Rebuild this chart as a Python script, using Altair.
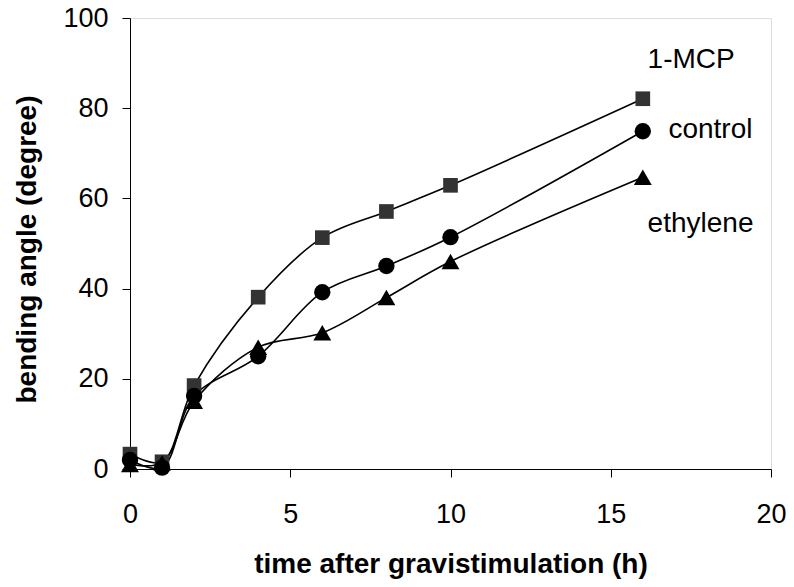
import altair as alt
import pandas as pd

hours = [0, 1, 2, 4, 6, 8, 10, 16]
mcp = [3.3, 1.6, 18.5, 38.1, 51.3, 57.1, 62.9, 82.1]
control = [2.0, 0.3, 16.2, 25.0, 39.2, 45.0, 51.4, 74.9]
ethylene = [1.0, 1.4, 15.0, 27.0, 30.2, 38.0, 46.0, 64.7]

series_names = ["1-MCP", "control", "ethylene"]
series_values = [mcp, control, ethylene]

label_text = ["1-MCP", "control", "ethylene"]
label_x = [16.15, 16.8, 16.15]
label_y = [88.9, 73.4, 52.6]

rows = []
for name, vals in zip(series_names, series_values):
    for h, v in zip(hours, vals):
        rows.append({"series": name, "hours": h, "angle": v})
df = pd.DataFrame(rows)
lab = pd.DataFrame({"text": label_text, "x": label_x, "y": label_y})

FONT = "Liberation Sans"

xs = alt.Scale(domain=[0, 20], nice=False, zero=False)
ys = alt.Scale(domain=[0, 100], nice=False)

xenc = alt.X("hours:Q", scale=xs, axis=alt.Axis(
    values=[0, 5, 10, 15, 20], title="time after gravistimulation (h)", grid=False,
    domainColor="black", domainWidth=1, tickColor="black", tickSize=8, tickWidth=1,
    labelFont=FONT, labelFontSize=27, labelColor="black", labelPadding=24,
    titleFont=FONT, titleFontSize=28, titleFontWeight="bold", titleColor="black",
    titleBaseline="alphabetic", titleY=103, labelFlush=False))
yenc = alt.Y("angle:Q", scale=ys, axis=alt.Axis(
    values=[0, 20, 40, 60, 80, 100], title="bending angle (degree)", grid=False,
    domainColor="black", domainWidth=1, tickColor="black", tickSize=8, tickWidth=1,
    labelFont=FONT, labelFontSize=27, labelColor="black", labelPadding=14,
    titleFont=FONT, titleFontSize=28, titleFontWeight="bold", titleColor="black",
    titleAngle=270, titleBaseline="alphabetic", titleX=-95, titleY=231,
    labelFlush=False))

lines = alt.Chart(df).mark_line(interpolate="catmull-rom", color="black", strokeWidth=1.6).encode(
    x=xenc, y=yenc, detail="series:N")

shape_scale = alt.Scale(domain=series_names, range=["square", "circle", "triangle-up"])
color_scale = alt.Scale(domain=series_names, range=["#333333", "black", "black"])
size_scale = alt.Scale(domain=series_names, range=[215, 320, 230])

points = alt.Chart(df).mark_point(filled=True, opacity=1).encode(
    x="hours:Q", y="angle:Q",
    shape=alt.Shape("series:N", scale=shape_scale, legend=None),
    color=alt.Color("series:N", scale=color_scale, legend=None),
    size=alt.Size("series:N", scale=size_scale, legend=None),
)

labels = alt.Chart(lab).mark_text(font=FONT, fontSize=28, color="black", align="left",
                                  baseline="alphabetic").encode(
    x=alt.X("x:Q", scale=xs), y=alt.Y("y:Q", scale=ys), text="text:N")

chart = alt.layer(lines, points, labels).properties(
    width=641, height=451,
    autosize=alt.AutoSizeParams(type="none"),
    padding={"left": 122, "top": 10, "right": 15, "bottom": 110},
).configure_view(stroke="#808080", strokeWidth=1.5).configure(background="white")

chart.save("out.html", embed_options={"renderer": "svg", "actions": False})
